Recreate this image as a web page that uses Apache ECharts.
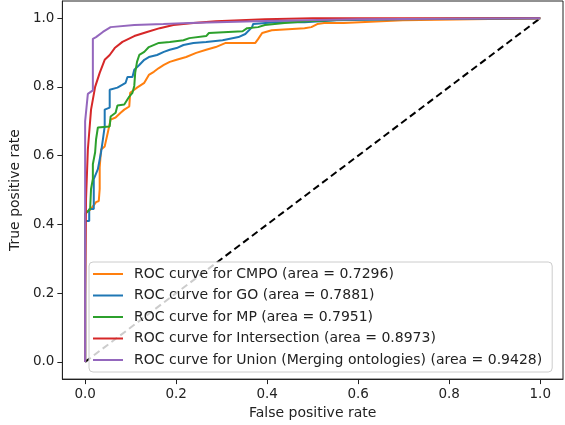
<!DOCTYPE html>
<html>
<head>
<meta charset="utf-8">
<script src="https://cdn.jsdelivr.net/npm/echarts@6/dist/echarts.min.js"></script>
<style>
html,body{margin:0;padding:0;background:#fff;}
#chart{width:565px;height:425px;}
</style>
</head>
<body>
<div id="chart"></div>
<script>
// Tick labels
const xTicks = [0, 0.2, 0.4, 0.6, 0.8, 1.0];
const yTicks = [0, 0.2, 0.4, 0.6, 0.8, 1.0];

// Series names
const seriesNames = [
  'ROC curve for CMPO (area = 0.7296)',
  'ROC curve for GO (area = 0.7881)',
  'ROC curve for MP (area = 0.7951)',
  'ROC curve for Intersection (area = 0.8973)',
  'ROC curve for Union (Merging ontologies) (area = 0.9428)'
];

// [false positive rate, true positive rate]
const cmpo = [[0,0],[0,0.431],[0.013,0.445],[0.024,0.465],[0.030,0.468],[0.032,0.503],[0.032,0.566],[0.035,0.618],[0.043,0.627],[0.050,0.668],[0.056,0.705],[0.067,0.711],[0.078,0.725],[0.086,0.734],[0.097,0.743],[0.099,0.783],[0.108,0.792],[0.114,0.798],[0.130,0.812],[0.140,0.835],[0.151,0.844],[0.162,0.855],[0.173,0.864],[0.186,0.873],[0.201,0.879],[0.222,0.887],[0.244,0.899],[0.266,0.908],[0.287,0.916],[0.309,0.928],[0.374,0.928],[0.380,0.939],[0.389,0.957],[0.410,0.965],[0.482,0.971],[0.497,0.974],[0.510,0.983],[0.525,0.986],[0.568,0.986],[0.698,0.994],[1,1]];

const go = [[0,0],[0,0.410],[0.009,0.410],[0.009,0.445],[0.019,0.445],[0.019,0.532],[0.028,0.561],[0.035,0.610],[0.039,0.647],[0.043,0.685],[0.043,0.734],[0.054,0.740],[0.054,0.792],[0.071,0.798],[0.089,0.812],[0.093,0.829],[0.104,0.829],[0.108,0.850],[0.119,0.864],[0.130,0.879],[0.140,0.887],[0.158,0.893],[0.173,0.902],[0.186,0.908],[0.201,0.913],[0.216,0.922],[0.238,0.928],[0.266,0.931],[0.302,0.936],[0.337,0.945],[0.352,0.954],[0.367,0.974],[0.369,0.983],[0.417,0.988],[0.482,0.988],[0.553,0.994],[0.698,0.997],[1,1]];

const mp = [[0,0],[0,0.431],[0.011,0.445],[0.013,0.503],[0.017,0.532],[0.017,0.575],[0.022,0.610],[0.024,0.647],[0.028,0.682],[0.054,0.685],[0.056,0.714],[0.067,0.725],[0.071,0.746],[0.086,0.749],[0.097,0.772],[0.104,0.783],[0.108,0.803],[0.110,0.841],[0.114,0.873],[0.119,0.893],[0.130,0.902],[0.140,0.916],[0.162,0.928],[0.186,0.931],[0.216,0.936],[0.229,0.942],[0.266,0.948],[0.272,0.957],[0.346,0.962],[0.356,0.971],[0.380,0.974],[0.395,0.980],[0.438,0.986],[0.488,0.991],[0.590,0.997],[1,1]];

const intersection = [[0,0],[0,0.185],[0.002,0.474],[0.006,0.618],[0.013,0.734],[0.022,0.800],[0.032,0.841],[0.043,0.879],[0.054,0.893],[0.065,0.913],[0.082,0.931],[0.108,0.948],[0.136,0.960],[0.164,0.971],[0.194,0.980],[0.238,0.986],[0.287,0.991],[0.395,0.997],[0.5,1],[1,1]];

const union = [[0,0],[0,0.700],[0.003,0.740],[0.006,0.780],[0.017,0.790],[0.017,0.940],[0.024,0.945],[0.039,0.960],[0.056,0.974],[0.108,0.980],[0.172,0.983],[0.229,0.986],[0.395,0.992],[0.600,0.997],[1,1]];

const diagonal = [[0,0],[1,1]];

const colors = ['#ff7f0e', '#1f77b4', '#2ca02c', '#d62728', '#9467bd'];
const seriesData = [cmpo, go, mp, intersection, union];

const font = 'DejaVu Sans';
const chart = echarts.init(document.getElementById('chart'), null, {renderer: 'canvas'});

const series = [{
  type: 'line',
  data: diagonal,
  symbol: 'none',
  silent: true,
  lineStyle: {color: '#000', width: 2, type: [7, 4]},
  z: 1
}];
seriesData.forEach((d, i) => {
  series.push({
    name: seriesNames[i],
    type: 'line',
    data: d,
    symbol: 'none',
    lineStyle: {color: colors[i], width: 2},
    itemStyle: {color: colors[i]},
    z: 2 + i
  });
});

chart.setOption({
  animation: false,
  backgroundColor: '#fff',
  grid: {left: 54, right: 2, top: 1, bottom: 44, show: true, borderColor: '#222', borderWidth: 1, backgroundColor: 'transparent'},
  xAxis: {
    type: 'value', min: -0.05, max: 1.05,
    name: 'False positive rate', nameLocation: 'middle', nameGap: 24,
    nameTextStyle: {fontFamily: font, fontSize: 14, color: '#222'},
    axisLine: {show: true, onZero: false, lineStyle: {color: '#222'}},
    axisTick: {show: true, length: 5, customValues: xTicks, lineStyle: {color: '#222'}},
    axisLabel: {customValues: xTicks, fontFamily: font, fontSize: 13.5, color: '#222', margin: 8, formatter: v => v.toFixed(1)},
    splitLine: {show: false}
  },
  yAxis: {
    type: 'value', min: -0.05, max: 1.05,
    name: 'True positive rate', nameLocation: 'middle', nameGap: 34,
    nameTextStyle: {fontFamily: font, fontSize: 14, color: '#222'},
    axisLine: {show: true, onZero: false, lineStyle: {color: '#222'}},
    axisTick: {show: true, length: 5, customValues: yTicks, lineStyle: {color: '#222'}},
    axisLabel: {customValues: yTicks, fontFamily: font, fontSize: 13.5, color: '#222', margin: 8, formatter: v => v.toFixed(1)},
    splitLine: {show: false}
  },
  legend: {
    orient: 'vertical', left: 89, top: 262,
    padding: [4, 10, 4, 4],
    itemWidth: 30, itemHeight: 2, itemGap: 5.5,
    icon: 'rect',
    backgroundColor: 'rgba(255,255,255,0.8)',
    borderColor: '#cccccc', borderWidth: 1, borderRadius: 4,
    textStyle: {fontFamily: font, fontSize: 14, color: '#222', lineHeight: 16, padding: [0, 0, 0, 6]},
    data: seriesNames
  },
  series: series
});
</script>
</body>
</html>
